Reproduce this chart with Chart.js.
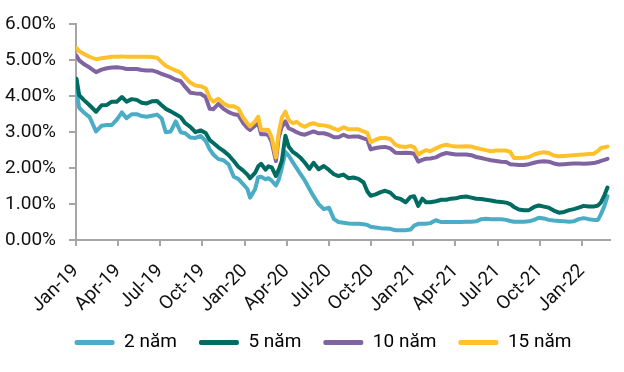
<!DOCTYPE html>
<html lang="vi">
<head>
  <meta charset="UTF-8">
  <title>Lợi suất trái phiếu</title>
  <script src="https://cdn.jsdelivr.net/npm/chart.js"></script>
  <style>
    html, body {
      margin: 0;
      padding: 0;
      background: white;
    }
    #wrap {
      width: 624px;
      height: 372px;
    }
  </style>
</head>
<body>
  <div id="wrap"><canvas id="yieldChart"></canvas></div>
  <script>
    // observation dates
    const dates = [
      '2019-01-02','2019-01-08','2019-01-18','2019-01-31','2019-02-13','2019-02-24','2019-03-07','2019-03-18','2019-03-29',
      '2019-04-09','2019-04-19','2019-04-30','2019-05-11','2019-05-22','2019-06-02','2019-06-13','2019-06-24',
      '2019-07-04','2019-07-13','2019-07-24','2019-08-04','2019-08-15','2019-08-25','2019-09-05','2019-09-16','2019-09-27',
      '2019-10-08','2019-10-17','2019-10-25','2019-11-05','2019-11-16','2019-11-27','2019-12-08','2019-12-18','2019-12-29',
      '2020-01-07','2020-01-13','2020-01-24','2020-01-31','2020-02-06','2020-02-15','2020-02-21','2020-02-28',
      '2020-03-08','2020-03-14','2020-03-21','2020-03-29','2020-04-05','2020-04-14','2020-04-22','2020-05-01','2020-05-10',
      '2020-05-20','2020-05-29','2020-06-09','2020-06-20','2020-07-01','2020-07-12','2020-07-22','2020-08-02','2020-08-13',
      '2020-08-24','2020-09-04','2020-09-15','2020-09-23','2020-09-30','2020-10-11','2020-10-22','2020-11-01','2020-11-12',
      '2020-11-23','2020-12-04','2020-12-15','2020-12-26',
      '2021-01-03','2021-01-12','2021-01-21','2021-01-29','2021-02-07','2021-02-18','2021-03-01','2021-03-12','2021-03-22',
      '2021-04-02','2021-04-13','2021-04-24','2021-05-05','2021-05-16','2021-05-27','2021-06-06','2021-06-17','2021-06-28',
      '2021-07-09','2021-07-20','2021-07-29','2021-08-06','2021-08-17','2021-08-28','2021-09-08','2021-09-19','2021-09-29',
      '2021-10-10','2021-10-21','2021-11-01','2021-11-12','2021-11-23','2021-12-04','2021-12-14','2021-12-25',
      '2022-01-05','2022-01-16','2022-01-27','2022-02-05','2022-02-11','2022-02-18','2022-02-24'
    ];

    const y2 = [
      4.16,3.68,3.55,3.42,3.02,3.18,3.20,3.20,3.35,
      3.55,3.39,3.50,3.50,3.45,3.43,3.46,3.49,
      3.38,3.00,3.02,3.30,3.00,2.97,2.85,2.84,2.90,
      2.76,2.52,2.38,2.25,2.22,2.10,1.76,1.70,1.55,
      1.42,1.18,1.41,1.75,1.76,1.69,1.72,1.65,
      1.52,1.67,2.00,2.45,2.35,2.16,2.00,1.82,1.65,
      1.42,1.22,1.00,0.86,0.90,0.58,0.50,0.48,0.46,
      0.45,0.45,0.44,0.42,0.37,0.35,0.33,0.32,0.31,
      0.27,0.27,0.27,0.29,
      0.40,0.45,0.45,0.45,0.47,0.55,0.50,0.50,0.50,
      0.50,0.50,0.51,0.51,0.52,0.58,0.59,0.58,0.58,
      0.58,0.56,0.53,0.51,0.51,0.51,0.52,0.56,0.62,
      0.60,0.56,0.54,0.53,0.52,0.51,0.52,0.58,
      0.61,0.58,0.56,0.56,0.72,0.95,1.22
    ];

    const y5 = [
      4.49,4.03,3.90,3.75,3.57,3.75,3.76,3.85,3.85,
      3.98,3.85,3.92,3.90,3.82,3.80,3.86,3.87,
      3.75,3.65,3.58,3.50,3.42,3.25,3.15,3.00,3.05,
      2.98,2.78,2.70,2.58,2.48,2.36,2.20,2.04,1.93,
      1.82,1.72,1.87,2.05,2.12,1.96,2.05,2.02,
      1.78,1.95,2.20,2.90,2.60,2.45,2.38,2.28,2.15,
      1.98,2.15,1.97,2.06,1.95,1.83,1.78,1.82,1.72,
      1.74,1.70,1.60,1.35,1.23,1.27,1.33,1.37,1.32,
      1.18,1.14,1.05,1.20,
      1.22,0.95,1.15,1.05,1.05,1.08,1.12,1.12,1.15,
      1.16,1.20,1.21,1.18,1.15,1.14,1.12,1.10,1.07,
      1.06,1.04,1.00,0.92,0.85,0.83,0.83,0.92,0.96,
      0.93,0.90,0.82,0.76,0.78,0.83,0.86,0.90,
      0.95,0.93,0.93,0.96,1.05,1.25,1.46
    ];

    const y10 = [
      5.13,5.00,4.90,4.80,4.67,4.74,4.78,4.80,4.81,
      4.79,4.76,4.76,4.76,4.73,4.72,4.72,4.68,
      4.62,4.58,4.53,4.46,4.42,4.26,4.10,4.08,4.07,
      3.98,3.65,3.64,3.79,3.65,3.56,3.50,3.48,3.25,
      3.12,3.06,3.18,3.25,2.94,2.94,2.92,2.72,
      2.20,2.85,3.15,3.30,3.11,3.06,3.00,2.95,2.93,
      2.98,3.02,2.97,2.97,2.93,2.86,2.86,2.93,2.87,
      2.88,2.88,2.83,2.79,2.52,2.56,2.58,2.59,2.55,
      2.43,2.42,2.43,2.42,
      2.40,2.18,2.23,2.26,2.27,2.30,2.38,2.42,2.40,
      2.38,2.38,2.38,2.36,2.31,2.28,2.25,2.22,2.20,
      2.18,2.17,2.11,2.10,2.09,2.09,2.11,2.15,2.18,
      2.19,2.18,2.13,2.10,2.11,2.12,2.13,2.13,
      2.12,2.13,2.14,2.17,2.20,2.23,2.26
    ];

    const y15 = [
      5.34,5.25,5.18,5.10,5.03,5.06,5.08,5.10,5.10,
      5.11,5.10,5.10,5.10,5.10,5.10,5.09,5.07,
      4.95,4.85,4.78,4.72,4.66,4.52,4.38,4.30,4.28,
      4.22,3.95,3.85,3.93,3.80,3.72,3.72,3.66,3.40,
      3.25,3.16,3.30,3.43,3.06,3.07,3.06,2.85,
      2.30,2.97,3.40,3.57,3.34,3.25,3.29,3.20,3.15,
      3.22,3.25,3.20,3.19,3.16,3.10,3.06,3.14,3.08,
      3.08,3.08,3.02,2.98,2.72,2.79,2.84,2.84,2.81,
      2.65,2.60,2.59,2.62,
      2.58,2.38,2.45,2.50,2.47,2.55,2.62,2.65,2.62,
      2.60,2.60,2.61,2.60,2.56,2.53,2.50,2.47,2.49,
      2.49,2.49,2.45,2.28,2.28,2.29,2.31,2.38,2.42,
      2.44,2.42,2.35,2.33,2.34,2.35,2.36,2.37,
      2.38,2.39,2.40,2.48,2.56,2.58,2.60
    ];

    const seriesNames = ['2 năm', '5 năm', '10 năm', '15 năm'];
    const seriesColors = ['#4BACC6', '#006B61', '#8064A2', '#FFC12B'];
    const monthNames = ['Jan','Feb','Mar','Apr','May','Jun','Jul','Aug','Sep','Oct','Nov','Dec'];

    // months since Jan 2019, fractional
    function toMonths(s) {
      const p = s.split('-').map(Number);
      const dim = new Date(Date.UTC(p[0], p[1], 0)).getUTCDate();
      return (p[0] - 2019) * 12 + (p[1] - 1) + (p[2] - 1) / dim;
    }

    function makeData(values) {
      return dates.map((d, i) => ({ x: toMonths(d), y: values[i] }));
    }

    const allValues = [y2, y5, y10, y15];
    const datasets = allValues.map((vals, i) => ({
      label: seriesNames[i],
      data: makeData(vals),
      borderColor: seriesColors[i],
      backgroundColor: seriesColors[i],
      borderWidth: 4,
      pointRadius: 0,
      tension: 0,
      borderJoinStyle: 'round',
      borderCapStyle: 'round',
      order: 4 - i
    }));

    // legend sits a bit right of centre in the original
    const legendShift = {
      id: 'legendShift',
      afterLayout(chart) {
        chart.legend.left += 18;
        chart.legend.right += 18;
      }
    };

    Chart.defaults.font.family = 'Roboto, "Noto Sans", Arial, sans-serif';
    Chart.defaults.color = '#111';

    const axisGrey = '#A6A6A6';

    new Chart(document.getElementById('yieldChart'), {
      type: 'line',
      data: { datasets: datasets },
      plugins: [legendShift],
      options: {
        responsive: true,
        maintainAspectRatio: false,
        animation: false,
        layout: { padding: { left: 0, right: 14, top: 4, bottom: 10 } },
        scales: {
          x: {
            type: 'linear',
            min: 0,
            max: 38,
            afterFit: s => { s.height = 71; },
            grid: { display: true, drawOnChartArea: false, drawTicks: true, tickLength: 6, color: axisGrey, lineWidth: 2 },
            border: { color: axisGrey, width: 2 },
            ticks: {
              stepSize: 3,
              includeBounds: false,
              autoSkip: false,
              minRotation: 45,
              maxRotation: 45,
              padding: 14,
              font: { size: 19 },
              color: '#111',
              callback: function(v) {
                if (v % 3 !== 0) return '';
                return monthNames[v % 12] + '-' + (19 + Math.floor(v / 12));
              }
            }
          },
          y: {
            min: 0,
            max: 6,
            afterFit: s => { s.width = 76; },
            grid: { display: true, drawOnChartArea: false, drawTicks: true, tickLength: 7, color: axisGrey, lineWidth: 2 },
            border: { color: axisGrey, width: 2 },
            ticks: {
              stepSize: 1,
              padding: 13,
              font: { size: 19 },
              color: '#111',
              callback: v => v.toFixed(2) + '%'
            }
          }
        },
        plugins: {
          tooltip: { enabled: false },
          legend: {
            position: 'bottom',
            labels: {
              boxWidth: 40,
              boxHeight: 5,
              padding: 22,
              font: { size: 19 },
              color: '#111',
              useBorderRadius: true,
              borderRadius: 2,
              generateLabels: function(chart) {
                return chart.data.datasets.map((ds, i) => ({
                  text: ds.label,
                  fillStyle: ds.borderColor,
                  strokeStyle: ds.borderColor,
                  lineWidth: 0,
                  hidden: false,
                  datasetIndex: i,
                  borderRadius: 2
                }));
              }
            }
          }
        }
      }
    });
  </script>
</body>
</html>
